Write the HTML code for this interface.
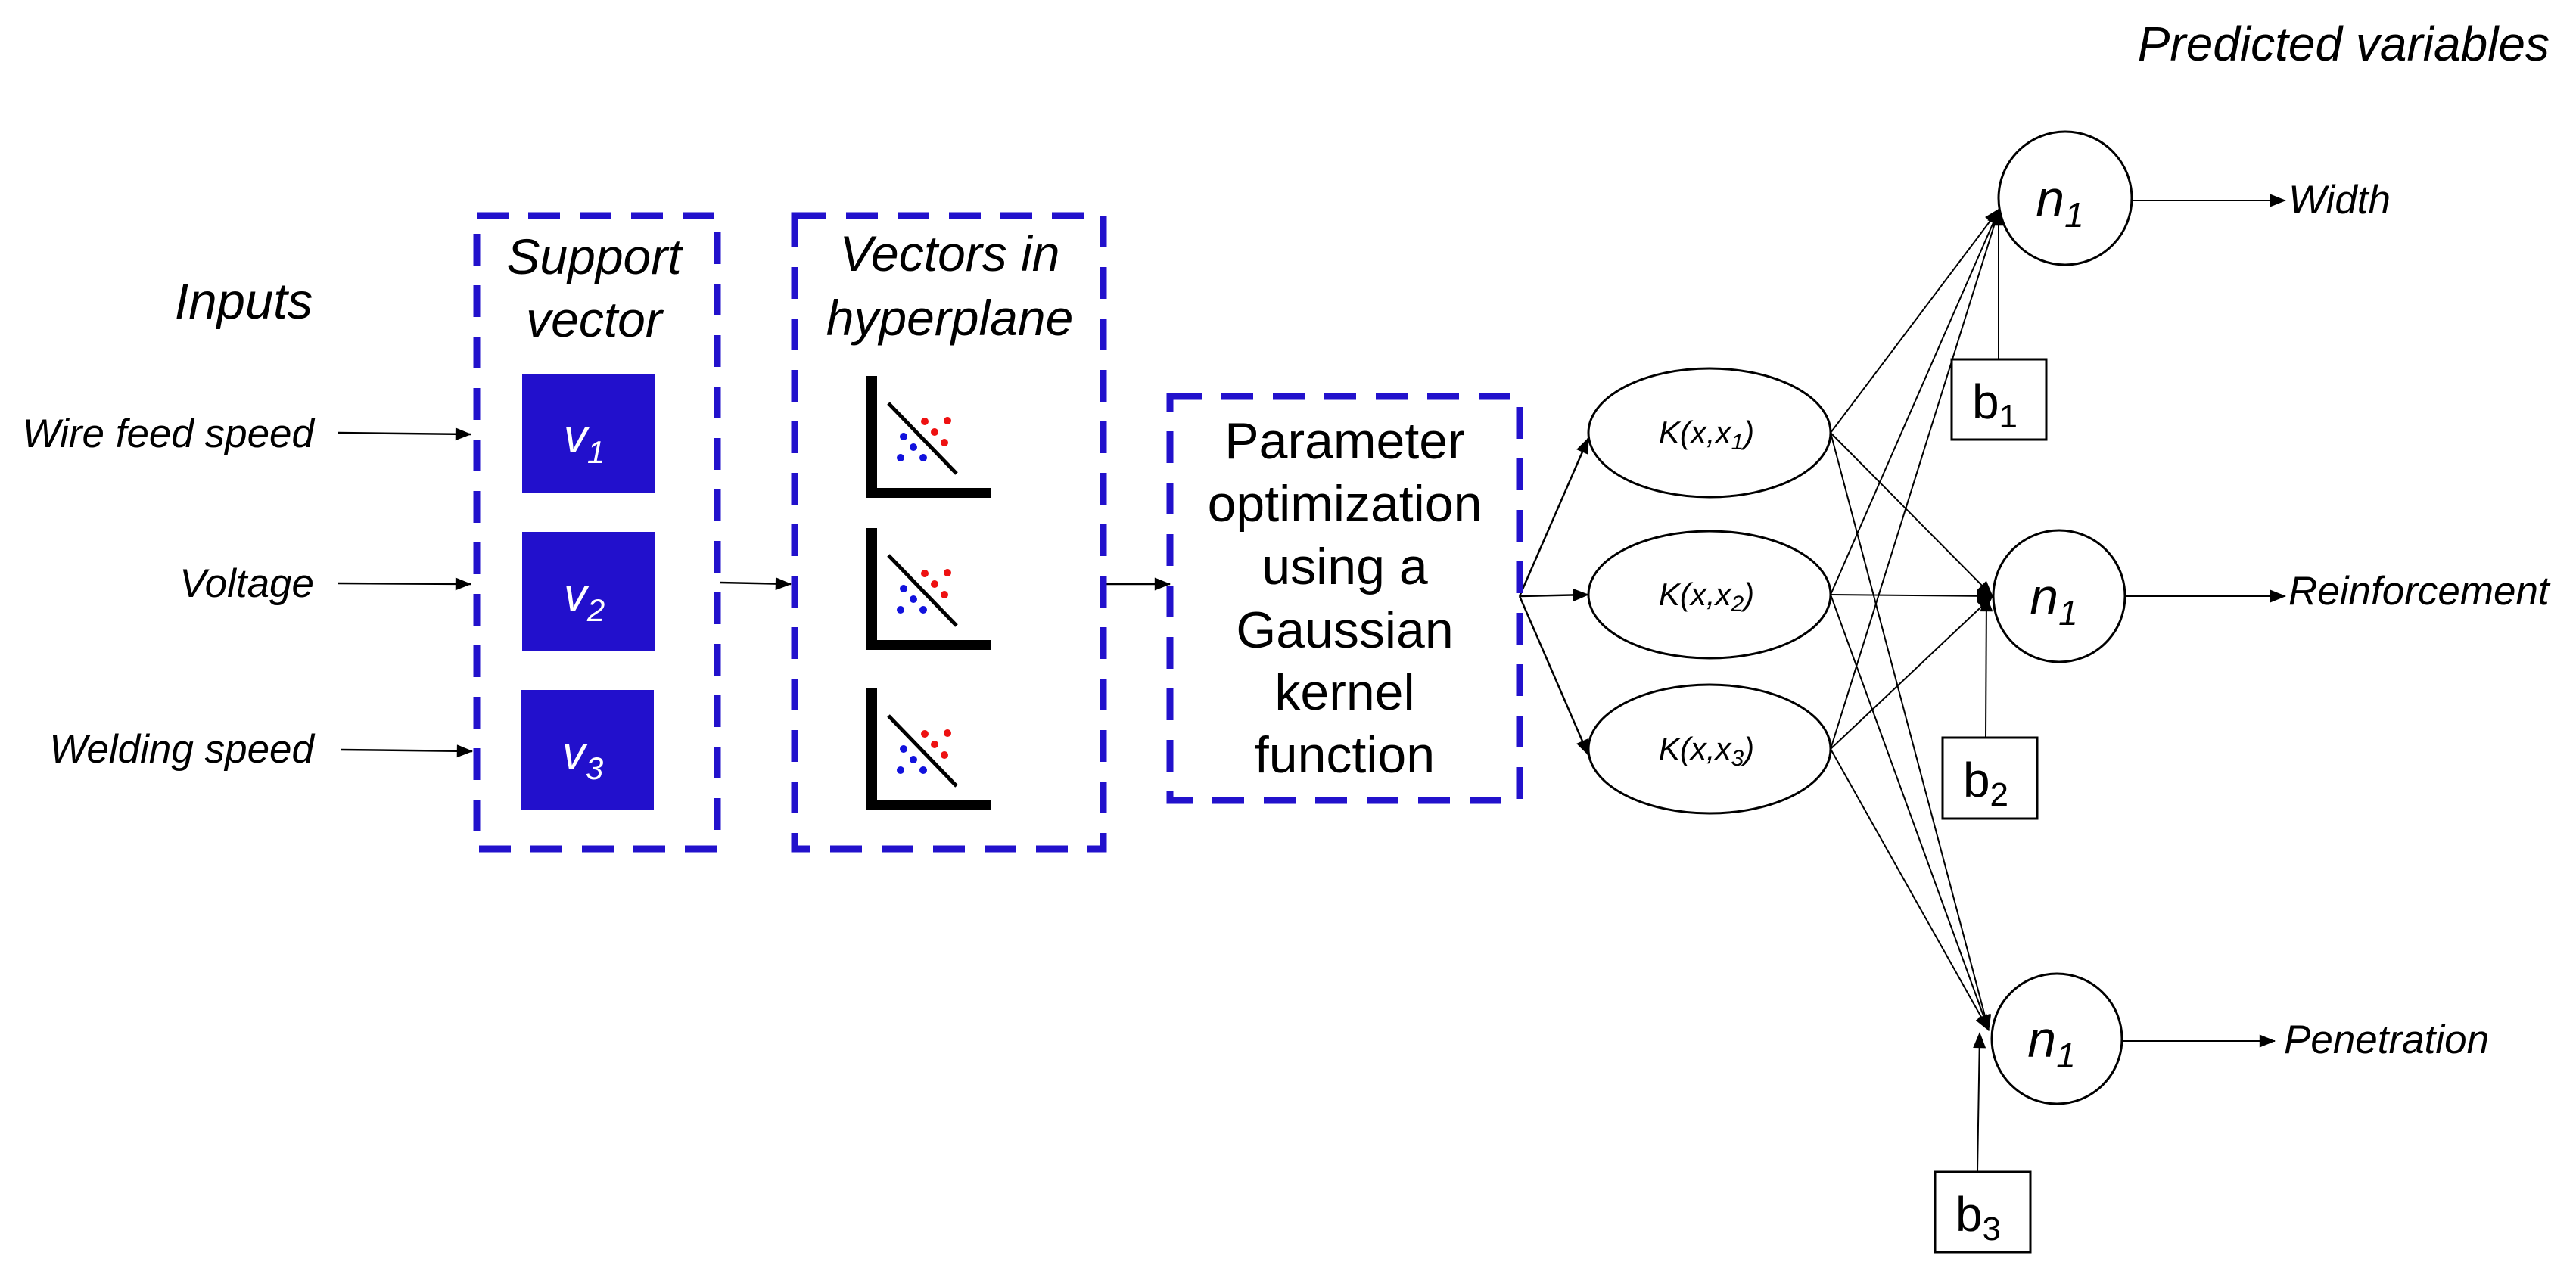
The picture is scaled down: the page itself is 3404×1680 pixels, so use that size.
<!DOCTYPE html>
<html><head><meta charset="utf-8"><style>
html,body{margin:0;padding:0;background:#fff;}
svg{display:block;}
text{font-family:"Liberation Sans",Arial,sans-serif;fill:#000;}
.it{font-style:italic;}
text.w{fill:#fff;}
</style></head><body>
<svg width="3404" height="1680" viewBox="0 0 3404 1680" xmlns="http://www.w3.org/2000/svg">
<defs>
<marker id="A" viewBox="0 0 10 8" refX="9.5" refY="4" markerWidth="22" markerHeight="17" orient="auto" markerUnits="userSpaceOnUse">
<path d="M0,0 L10,4 L0,8 z" fill="#000"/></marker>
</defs>

<text x="3369" y="80" font-size="64" class="it" text-anchor="end">Predicted variables</text>
<text x="322" y="421" font-size="67" class="it" text-anchor="middle">Inputs</text>

<text x="415" y="591" font-size="53" class="it" text-anchor="end">Wire feed speed</text>
<text x="415" y="789" font-size="53" class="it" text-anchor="end">Voltage</text>
<text x="415" y="1008" font-size="53" class="it" text-anchor="end">Welding speed</text>
<g stroke="#000" stroke-width="2.5" fill="none" marker-end="url(#A)">
<line x1="446" y1="572" x2="622" y2="574"/>
<line x1="446" y1="771" x2="622" y2="772"/>
<line x1="450" y1="991" x2="624" y2="993"/>
<line x1="951" y1="770" x2="1045" y2="772"/>
<line x1="1461" y1="772" x2="1546" y2="772"/>
<line x1="2008" y1="788" x2="2099" y2="579"/>
<line x1="2008" y1="788" x2="2099" y2="786"/>
<line x1="2008" y1="788" x2="2099" y2="998"/>
</g>

<g stroke="#2211cc" stroke-width="9" fill="none" stroke-dasharray="42 26">
<rect x="630" y="285" width="318" height="837"/>
<rect x="1050" y="285" width="408" height="837"/>
<rect x="1546" y="524" width="462" height="534"/>
</g>

<text x="785" y="362" font-size="66" class="it" text-anchor="middle">Support</text>
<text x="785" y="445" font-size="66" class="it" text-anchor="middle">vector</text>
<text x="1255" y="358" font-size="66" class="it" text-anchor="middle">Vectors in</text>
<text x="1255" y="443" font-size="66" class="it" text-anchor="middle">hyperplane</text>

<g fill="#2210cc">
<rect x="690" y="494" width="176" height="157"/>
<rect x="690" y="703" width="176" height="157"/>
<rect x="688" y="912" width="176" height="158"/>
</g>
<g font-size="62" text-anchor="middle">
<text class="w it" x="772" y="598" style="fill:#fff">v<tspan font-size="42" dy="14">1</tspan></text>
<text class="w it" x="772" y="807" style="fill:#fff">v<tspan font-size="42" dy="14">2</tspan></text>
<text class="w it" x="770" y="1016" style="fill:#fff">v<tspan font-size="42" dy="14">3</tspan></text>
</g>

<g id="ic">
<rect x="1144" y="497" width="15" height="161" fill="#000"/>
<rect x="1144" y="645" width="165" height="13" fill="#000"/>
<line x1="1174" y1="533" x2="1264" y2="626" stroke="#000" stroke-width="5"/>
<g fill="#ee1111"><circle cx="1222" cy="557" r="5"/><circle cx="1252" cy="556" r="5"/><circle cx="1235" cy="571" r="5"/><circle cx="1248" cy="585" r="5"/></g>
<g fill="#1111dd"><circle cx="1194" cy="577" r="5"/><circle cx="1207" cy="591" r="5"/><circle cx="1190" cy="605" r="5"/><circle cx="1220" cy="605" r="5"/></g>
</g>
<use href="#ic" transform="translate(0,201)"/>
<use href="#ic" transform="translate(0,413)"/>

<g font-size="68" text-anchor="middle">
<text x="1777" y="606">Parameter</text>
<text x="1777" y="689">optimization</text>
<text x="1777" y="772">using a</text>
<text x="1777" y="856">Gaussian</text>
<text x="1777" y="938">kernel</text>
<text x="1777" y="1021">function</text>
</g>

<g stroke="#000" stroke-width="3" fill="#fff">
<ellipse cx="2259" cy="572" rx="160" ry="85"/>
<ellipse cx="2259" cy="786" rx="160" ry="84"/>
<ellipse cx="2259" cy="990" rx="160" ry="85"/>
</g>
<g font-size="42" class="it" text-anchor="middle">
<text x="2255" y="586">K(x,x<tspan font-size="30" dy="8">1</tspan><tspan dy="-8">)</tspan></text>
<text x="2255" y="800">K(x,x<tspan font-size="30" dy="8">2</tspan><tspan dy="-8">)</tspan></text>
<text x="2255" y="1004">K(x,x<tspan font-size="30" dy="8">3</tspan><tspan dy="-8">)</tspan></text>
</g>

<g stroke="#000" stroke-width="2" fill="none" marker-end="url(#A)">
<line x1="2419" y1="572" x2="2642" y2="276"/>
<line x1="2419" y1="786" x2="2642" y2="276"/>
<line x1="2419" y1="990" x2="2642" y2="276"/>
<line x1="2419" y1="572" x2="2633" y2="788"/>
<line x1="2419" y1="786" x2="2633" y2="788"/>
<line x1="2419" y1="990" x2="2633" y2="788"/>
<line x1="2419" y1="572" x2="2628" y2="1362"/>
<line x1="2419" y1="786" x2="2628" y2="1362"/>
<line x1="2419" y1="990" x2="2628" y2="1362"/>
<line x1="2641" y1="475" x2="2641" y2="278"/>
<line x1="2624" y1="975" x2="2625" y2="788"/>
<line x1="2613" y1="1549" x2="2616" y2="1365"/>
<line x1="2817" y1="265" x2="3020" y2="265"/>
<line x1="2809" y1="788" x2="3020" y2="788"/>
<line x1="2806" y1="1376" x2="3006" y2="1376"/>
</g>

<g stroke="#000" stroke-width="3" fill="#fff">
<circle cx="2729" cy="262" r="88"/>
<circle cx="2721" cy="788" r="87"/>
<circle cx="2718" cy="1373" r="86"/>
</g>
<g font-size="68" class="it" text-anchor="middle">
<text x="2722" y="286">n<tspan font-size="46" dy="14">1</tspan></text>
<text x="2714" y="812">n<tspan font-size="46" dy="14">1</tspan></text>
<text x="2711" y="1397">n<tspan font-size="46" dy="14">1</tspan></text>
</g>

<g stroke="#000" stroke-width="3" fill="#fff">
<rect x="2579" y="475" width="125" height="106"/>
<rect x="2567" y="975" width="125" height="107"/>
<rect x="2557" y="1549" width="126" height="106"/>
</g>
<g font-size="64" text-anchor="middle">
<text x="2636" y="553">b<tspan font-size="44" dy="12">1</tspan></text>
<text x="2624" y="1053">b<tspan font-size="44" dy="12">2</tspan></text>
<text x="2614" y="1627">b<tspan font-size="44" dy="12">3</tspan></text>
</g>

<g font-size="53" class="it">
<text x="3024" y="282">Width</text>
<text x="3024" y="799">Reinforcement</text>
<text x="3018" y="1392">Penetration</text>
</g>
</svg>
</body></html>
